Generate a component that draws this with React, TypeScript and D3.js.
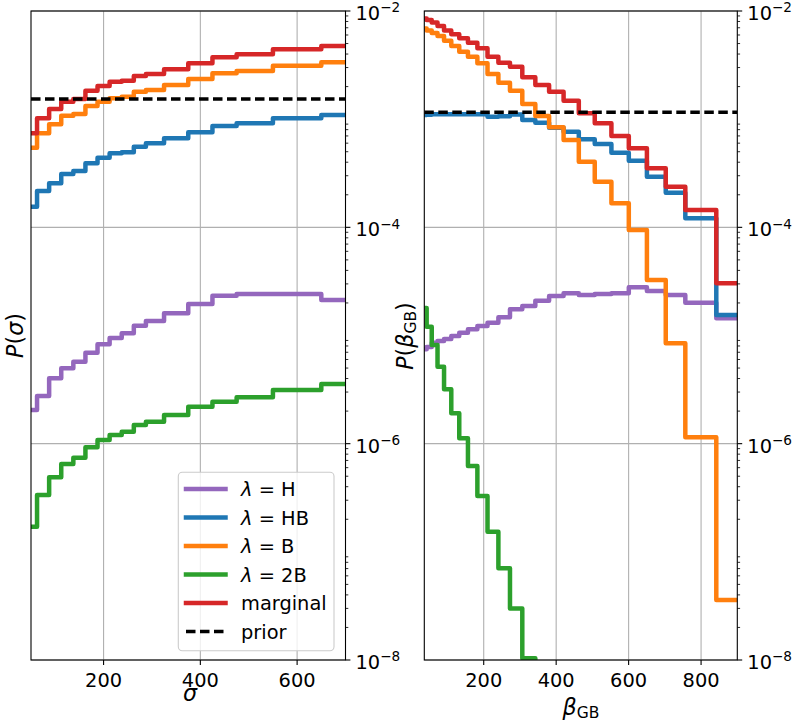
import React from 'react';
import * as d3 from 'd3';

// ---------- data ----------
const SIGMA = [50, 75, 100, 125, 150, 175, 200, 225, 250, 275, 300, 350, 400, 450, 500, 600, 700];
const BETA = [36, 49, 64, 81, 100, 121, 144, 169, 196, 225, 256, 289, 324, 361, 400, 441, 484, 529, 576, 625, 676, 729, 784, 900];

const sigmaH = [2.05e-6, 2.76e-6, 4.02e-6, 4.98e-6, 5.73e-6, 6.94e-6, 8.29e-6, 9.48e-6, 1.048e-5, 1.232e-5, 1.362e-5, 1.604e-5, 1.956e-5, 2.333e-5, 2.419e-5, 2.419e-5, 2.129e-5];
const sigmaHB = [1.551e-4, 2.168e-4, 2.553e-4, 3.11e-4, 3.318e-4, 3.91e-4, 4.4e-4, 4.835e-4, 4.94e-4, 5.565e-4, 5.98e-4, 6.65e-4, 7.56e-4, 8.65e-4, 9.16e-4, 1.019e-3, 1.093e-3];
const sigmaB = [5.45e-4, 7.4e-4, 8.97e-4, 1.076e-3, 1.116e-3, 1.323e-3, 1.45e-3, 1.56e-3, 1.613e-3, 1.795e-3, 1.861e-3, 2.07e-3, 2.35e-3, 2.655e-3, 2.788e-3, 3.12e-3, 3.355e-3];
const sigma2B = [1.708e-7, 3.353e-7, 4.89e-7, 6.49e-7, 7.42e-7, 9.26e-7, 1.081e-6, 1.203e-6, 1.291e-6, 1.488e-6, 1.596e-6, 1.84e-6, 2.197e-6, 2.443e-6, 2.683e-6, 3.134e-6, 3.561e-6];
const sigmaMarg = [7.4e-4, 1.019e-3, 1.24e-3, 1.45e-3, 1.536e-3, 1.833e-3, 2.025e-3, 2.22e-3, 2.268e-3, 2.507e-3, 2.616e-3, 2.89e-3, 3.284e-3, 3.73e-3, 3.98e-3, 4.425e-3, 4.746e-3];
const sigmaPrior = 1.538e-3;

const betaH = [7.46e-6, 7.83e-6, 8.58e-6, 8.9e-6, 9.29e-6, 9.9e-6, 1.062e-5, 1.141e-5, 1.224e-5, 1.313e-5, 1.473e-5, 1.747e-5, 1.874e-5, 2.098e-5, 2.318e-5, 2.455e-5, 2.368e-5, 2.419e-5, 2.455e-5, 2.79e-5, 2.58e-5, 2.368e-5, 2.01e-5, 1.442e-5];
const betaHB = [1.093e-3, 1.1e-3, 1.11e-3, 1.11e-3, 1.112e-3, 1.112e-3, 1.11e-3, 1.11e-3, 1.108e-3, 1.054e-3, 1.063e-3, 1.104e-3, 9.82e-4, 9.28e-4, 8.34e-4, 7.66e-4, 6.52e-4, 5.895e-4, 4.9e-4, 4.13e-4, 2.938e-4, 2.09e-4, 1.212e-4, 1.547e-5];
const betaB = [6.89e-3, 6.6e-3, 6.26e-3, 5.87e-3, 5.31e-3, 4.746e-3, 4.205e-3, 3.78e-3, 3.284e-3, 2.616e-3, 2.173e-3, 1.833e-3, 1.381e-3, 1.07e-3, 8.41e-4, 6.42e-4, 4.045e-4, 2.642e-4, 1.668e-4, 9.45e-5, 3.26e-5, 8.47e-6, 1.145e-6, 3.59e-8];
const beta2B = [1.796e-5, 1.206e-5, 8.17e-6, 5.15e-6, 3.18e-6, 1.909e-6, 1.121e-6, 6.22e-7, 3.28e-7, 1.536e-7, 7.05e-8, 3.0e-8, 1.04e-8, 3e-9];
const betaMarg = [8.52e-3, 8.26e-3, 7.83e-3, 7.27e-3, 6.6e-3, 6.09e-3, 5.59e-3, 5.09e-3, 4.52e-3, 3.78e-3, 3.33e-3, 3.055e-3, 2.438e-3, 2.07e-3, 1.795e-3, 1.481e-3, 1.133e-3, 9.16e-4, 6.99e-4, 5.38e-4, 3.514e-4, 2.375e-4, 1.446e-4, 3.04e-5];
const betaPrior = 1.157e-3;

const SIGMA_TICKS = [200, 400, 600];
const BETA_TICKS = [200, 400, 600, 800];
const Y_MAJOR_EXP = [-2, -4, -6, -8];
const Y_DECADES = [-8, -7, -6, -5, -4, -3];
const Y_SUBS = [2, 3, 4, 5, 6, 7, 8, 9];

const LEGEND = [
  { label: 'H', color: '#9467bd', math: true },
  { label: 'HB', color: '#1f77b4', math: true },
  { label: 'B', color: '#ff7f0e', math: true },
  { label: '2B', color: '#2ca02c', math: true },
  { label: 'marginal', color: '#d62728', math: false },
  { label: 'prior', color: '#000000', math: false, dashed: true },
];

// ---------- layout ----------
const W = 797;
const H = 724;
const TOP = 11;
const BOTTOM = 660;
const FONT = "'DejaVu Sans', sans-serif";
const TICK_FS = 19.4;
const SUP_FS = 13.6;
const LABEL_FS = 22.2;
const LW = 4.5;

type Series = { values: number[]; color: string };

function Panel(props: {
  id: string;
  x0: number;
  x1: number;
  domain: [number, number];
  xs: number[];
  series: Series[];
  prior: number;
  xTicks: number[];
  children?: React.ReactNode;
}) {
  const { id, x0, x1, domain, xs, series, prior, xTicks } = props;
  const x = d3.scaleLinear().domain(domain).range([x0, x1]);
  const y = d3.scaleLog().domain([1e-8, 1e-2]).range([BOTTOM, TOP]);
  const line = d3
    .line<[number, number]>()
    .x((d) => x(d[0]))
    .y((d) => y(d[1]))
    .curve(d3.curveStep);

  const minor: number[] = [];
  Y_DECADES.forEach((d) => Y_SUBS.forEach((k) => minor.push(k * Math.pow(10, d))));

  return (
    <g>
      <defs>
        <clipPath id={id}>
          <rect x={x0} y={TOP} width={x1 - x0} height={BOTTOM - TOP} />
        </clipPath>
      </defs>
      <rect x={x0} y={TOP} width={x1 - x0} height={BOTTOM - TOP} fill="#fff" />
      {/* grid */}
      {xTicks.map((t) => (
        <line key={'gx' + t} x1={x(t)} x2={x(t)} y1={TOP} y2={BOTTOM} stroke="#b0b0b0" strokeWidth={1.1} />
      ))}
      {Y_MAJOR_EXP.map((e) => (
        <line key={'gy' + e} x1={x0} x2={x1} y1={y(Math.pow(10, e))} y2={y(Math.pow(10, e))} stroke="#b0b0b0" strokeWidth={1.1} />
      ))}
      {/* data */}
      <g clipPath={`url(#${id})`}>
        {series.map((s, i) => (
          <path
            key={i}
            d={line(s.values.map((v, j) => [xs[j], v] as [number, number])) || ''}
            fill="none"
            stroke={s.color}
            strokeWidth={LW}
            strokeLinejoin="round"
            strokeLinecap="square"
          />
        ))}
        <line
          x1={x0}
          x2={x1}
          y1={y(prior)}
          y2={y(prior)}
          stroke="#000"
          strokeWidth={3.4}
          strokeDasharray="9.5,4.5"
        />
      </g>
      {/* spines */}
      <rect x={x0} y={TOP} width={x1 - x0} height={BOTTOM - TOP} fill="none" stroke="#000" strokeWidth={1.1} />
      {/* x ticks */}
      {xTicks.map((t) => (
        <g key={'xt' + t}>
          <line x1={x(t)} x2={x(t)} y1={BOTTOM} y2={BOTTOM + 4.9} stroke="#000" strokeWidth={1.1} />
          <text x={x(t)} y={686.5} textAnchor="middle" fontSize={TICK_FS} fontFamily={FONT} fill="#000">
            {t}
          </text>
        </g>
      ))}
      {/* y ticks on right */}
      {minor.map((v, i) => (
        <line key={'my' + i} x1={x1} x2={x1 + 2.8} y1={y(v)} y2={y(v)} stroke="#000" strokeWidth={0.83} />
      ))}
      {Y_MAJOR_EXP.map((e) => {
        const yy = y(Math.pow(10, e));
        return (
          <g key={'yt' + e}>
            <line x1={x1} x2={x1 + 4.9} y1={yy} y2={yy} stroke="#000" strokeWidth={1.1} />
            <text x={x1 + 10} y={yy + 9} fontSize={TICK_FS} fontFamily={FONT} fill="#000">
              10
              <tspan dy={-7.7} fontSize={SUP_FS}>
                {'\u2212' + Math.abs(e)}
              </tspan>
            </text>
          </g>
        );
      })}
      {props.children}
    </g>
  );
}

function Legend() {
  const lx = 178.3;
  const ly = 472.3;
  const rowY = (i: number) => 489 + i * 28.5;
  return (
    <g>
      <rect x={lx} y={ly} width={334 - lx} height={650.7 - ly} rx={4} ry={4} fill="#fff" fillOpacity={0.8} stroke="#cccccc" strokeWidth={1.1} />
      {LEGEND.map((e, i) => (
        <g key={e.label}>
          <line
            x1={186}
            x2={225.5}
            y1={rowY(i)}
            y2={rowY(i)}
            stroke={e.color}
            strokeWidth={e.dashed ? 3.4 : LW}
            strokeDasharray={e.dashed ? '9.5,4.5' : undefined}
            strokeLinecap={e.dashed ? 'butt' : 'square'}
          />
          <text x={241} y={rowY(i) + 7} fontSize={TICK_FS} fontFamily={FONT} fill="#000">
            {e.math ? (
              <>
                <tspan fontStyle="italic">λ</tspan>
                <tspan>{' = ' + e.label}</tspan>
              </>
            ) : (
              e.label
            )}
          </text>
        </g>
      ))}
    </g>
  );
}

export default function App() {
  const leftSeries: Series[] = [
    { values: sigmaH, color: '#9467bd' },
    { values: sigmaHB, color: '#1f77b4' },
    { values: sigmaB, color: '#ff7f0e' },
    { values: sigma2B, color: '#2ca02c' },
    { values: sigmaMarg, color: '#d62728' },
  ];
  const rightSeries: Series[] = [
    { values: betaH, color: '#9467bd' },
    { values: betaHB, color: '#1f77b4' },
    { values: betaB, color: '#ff7f0e' },
    { values: beta2B, color: '#2ca02c' },
    { values: betaMarg, color: '#d62728' },
  ];
  return (
    <svg
      width={W}
      height={H}
      viewBox={`0 0 ${W} ${H}`}
      style={{ position: 'absolute', left: 0, top: 0, background: '#fff' }}
      fontFamily={FONT}
    >
      <rect x={0} y={0} width={W} height={H} fill="#fff" />
      <Panel id="clipL" x0={31} x1={345.5} domain={[50, 700]} xs={SIGMA} series={leftSeries} prior={sigmaPrior} xTicks={SIGMA_TICKS}>
        <Legend />
      </Panel>
      <Panel id="clipR" x0={424.3} x1={737.3} domain={[36, 900]} xs={BETA} series={rightSeries} prior={betaPrior} xTicks={BETA_TICKS} />
      {/* axis labels */}
      <text x={190} y={701} textAnchor="middle" fontSize={LABEL_FS} fontStyle="italic" fill="#000">
        σ
      </text>
      <text x={581} y={715} textAnchor="middle" fontSize={LABEL_FS} fill="#000">
        <tspan fontStyle="italic">β</tspan>
        <tspan fontSize={15.5} dy={2.5}>GB</tspan>
      </text>
      <text transform="translate(23,335.5) rotate(-90)" textAnchor="middle" fontSize={LABEL_FS} fill="#000">
        <tspan fontStyle="italic">P</tspan>
        <tspan>(</tspan>
        <tspan fontStyle="italic">σ</tspan>
        <tspan>)</tspan>
      </text>
      <text transform="translate(413,336) rotate(-90)" textAnchor="middle" fontSize={LABEL_FS} fill="#000">
        <tspan fontStyle="italic">P</tspan>
        <tspan>(</tspan>
        <tspan fontStyle="italic">β</tspan>
        <tspan fontSize={15.5} dy={2.5}>GB</tspan>
        <tspan dy={-2.5}>)</tspan>
      </text>
    </svg>
  );
}
